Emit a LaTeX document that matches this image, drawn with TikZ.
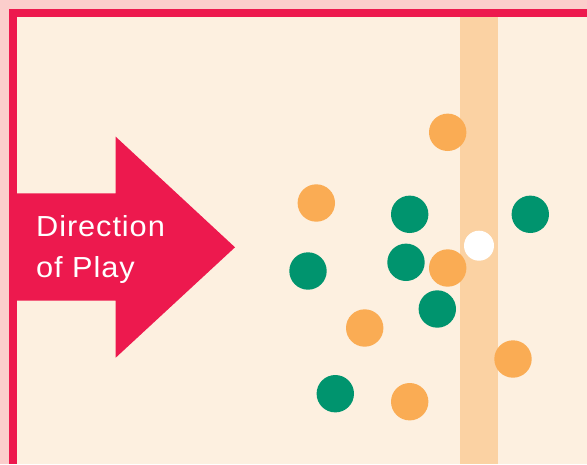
\documentclass[tikz,border=0pt]{standalone}
\usepackage{fontspec}
\setmainfont{Liberation Sans}
\definecolor{outerpink}{RGB}{251,205,203}
\definecolor{crimson}{RGB}{237,25,78}
\definecolor{cream}{RGB}{253,240,224}
\definecolor{stripe}{RGB}{251,210,163}
\definecolor{orangeP}{RGB}{250,172,84}
\definecolor{greenP}{RGB}{0,148,110}
\tikzset{
  player/.style={circle, inner sep=0pt, minimum size=37.4pt},
  opp/.style={player, fill=orangeP},
  own/.style={player, fill=greenP},
  ball/.style={circle, inner sep=0pt, minimum size=30pt, fill=white},
  label/.style={text=white, font=\fontsize{29}{38.4}\selectfont\addfontfeature{LetterSpace=3}, align=left, anchor=north west, inner sep=0pt}
}
\begin{document}
\begin{tikzpicture}[x=1pt,y=-1pt]
\useasboundingbox (0,0) rectangle (587,464);
\fill[outerpink] (0,0) rectangle (587,464);
\fill[crimson] (9,8.5) rectangle (587,464);
\fill[cream] (17,16.5) rectangle (587,464);
\fill[stripe] (460,16.5) rectangle (497.7,464);
% arrow
\fill[crimson] (17,193.3) -- (115.7,193.3) -- (115.7,136.7) -- (235,247.3) -- (115.7,357.7) -- (115.7,300.7) -- (17,300.7) -- cycle;
\node[label] (dir) at (36,209) {\scalebox{1.06}[1]{\begin{tabular}{@{}l@{}}Direction\\[3.5pt]of Play\end{tabular}}};
% players
\node[opp] (o1) at (447.7,132.3) {};
\node[opp] (o2) at (316.3,203) {};
\node[own] (g1) at (409.7,214.3) {};
\node[own] (g2) at (530.3,214.3) {};
\node[own] (g3) at (308,271) {};
\node[own] (g4) at (406,262.3) {};
\node[opp] (o3) at (447.7,268) {};
\node[own] (g5) at (437.3,309) {};
\node[opp] (o4) at (364.7,328) {};
\node[opp] (o5) at (513,359) {};
\node[own] (g6) at (335.3,393.7) {};
\node[opp] (o6) at (409.7,401.7) {};
\node[ball] (b) at (479,245.7) {};
\end{tikzpicture}
\end{document}
